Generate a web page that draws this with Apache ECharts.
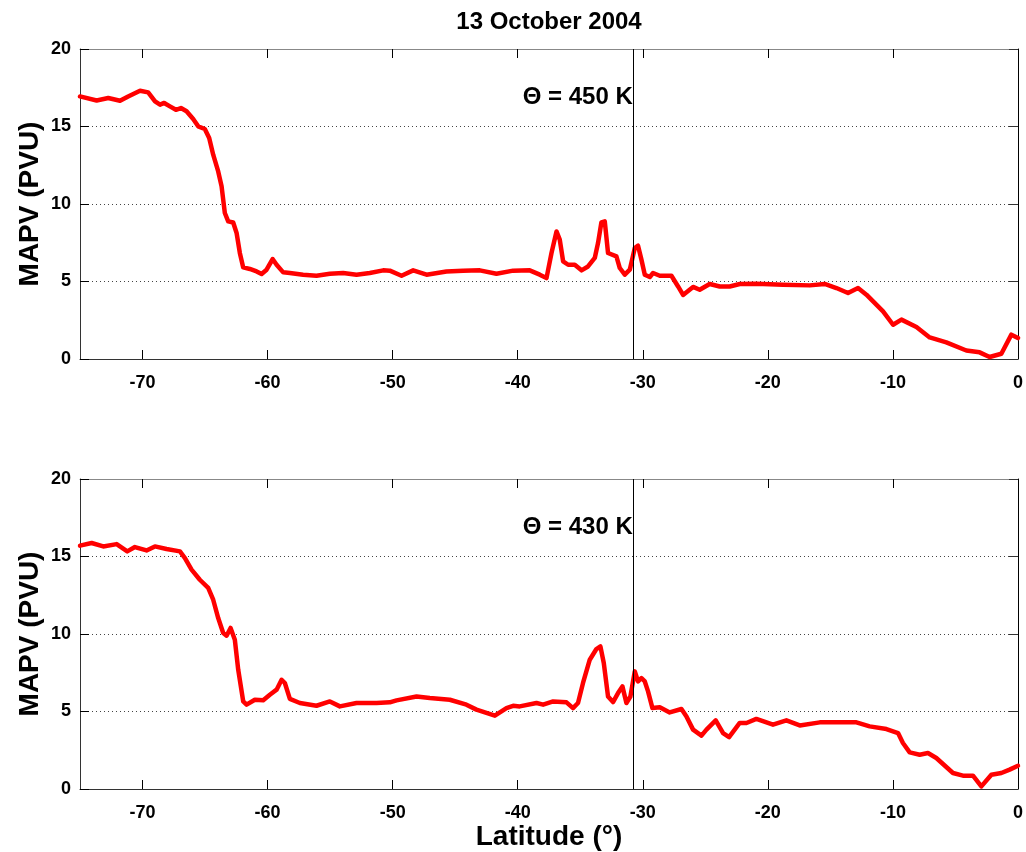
<!DOCTYPE html>
<html>
<head>
<meta charset="utf-8">
<script src="https://cdn.jsdelivr.net/npm/echarts@6/dist/echarts.min.js"></script>
<style>
  html, body { margin: 0; padding: 0; background: #fff; }
  #chart { width: 1026px; height: 852px; }
</style>
</head>
<body>
<div id="chart"></div>
<script>
// Modified area-averaged PV along the latitude transect, 13 October 2004
const titleText = '13 October 2004';
const xTickValues = [-70, -60, -50, -40, -30, -20, -10, 0];
const yTickLabels = ['0', '5', '10', '15', '20'];
const markerLatitude = -30.8;

// Θ = 450 K level
const lat450 = [-75, -73.67, -72.74, -71.8, -71.15, -70.2, -69.55, -69.0, -68.6, -68.27, -67.81, -67.33, -66.93, -66.48,
  -65.95, -65.55, -65.02, -64.67, -64.35, -63.95, -63.68, -63.42, -63.15, -62.75, -62.48, -62.22, -61.95, -61.42,
  -60.88, -60.48, -60.08, -59.6, -59.28, -58.75, -58.22, -57.16, -56.09, -55.02, -53.96, -52.89, -51.83, -50.76,
  -50.23, -49.29, -48.36, -47.29, -45.7, -44.37, -43.03, -41.7, -40.37, -39.04, -38.24, -37.7, -37.3, -36.9, -36.64,
  -36.37, -35.97, -35.44, -34.9, -34.38, -33.84, -33.58, -33.31, -33.04, -32.78, -32.11, -31.84, -31.44, -31.04,
  -30.64, -30.38, -30.11, -29.84, -29.44, -29.18, -28.64, -27.71, -27.18, -26.78, -25.98, -25.45, -24.65, -23.85,
  -23.05, -22.25, -20.92, -18.79, -16.65, -15.46, -14.52, -13.59, -12.79, -12.12, -10.79, -9.99, -9.32, -8.12,
  -7.06, -5.73, -4.13, -3.07, -2.27, -1.33, -0.53, 0];
const mapv450 = [16.94, 16.68, 16.84, 16.66, 16.94, 17.31, 17.2, 16.62, 16.41, 16.52, 16.3, 16.08, 16.19, 15.98,
  15.48, 15.01, 14.84, 14.26, 13.18, 12.1, 11.14, 9.42, 8.88, 8.81, 8.13, 6.84, 5.91, 5.81,
  5.65, 5.48, 5.76, 6.45, 6.08, 5.59, 5.55, 5.44, 5.37, 5.5, 5.55, 5.44, 5.55, 5.72,
  5.7, 5.37, 5.72, 5.44, 5.65, 5.7, 5.72, 5.5, 5.7, 5.72, 5.44, 5.22, 6.84, 8.23, 7.7,
  6.3, 6.08, 6.08, 5.72, 5.97, 6.52, 7.48, 8.81, 8.88, 6.84, 6.62, 5.87, 5.44, 5.76,
  7.16, 7.31, 6.41, 5.44, 5.29, 5.55, 5.37, 5.37, 4.68, 4.13, 4.65, 4.47, 4.84, 4.68,
  4.68, 4.84, 4.86, 4.79, 4.75, 4.84, 4.58, 4.26, 4.58, 4.15, 3.07, 2.21, 2.54, 2.06,
  1.39, 1.07, 0.55, 0.43, 0.13, 0.34, 1.57, 1.35];

// Θ = 430 K level
const lat430 = [-75, -74.07, -73.14, -72.07, -71.22, -70.61, -69.68, -69.01, -68.08, -67.01, -66.61, -66.08, -65.42,
  -64.75, -64.35, -63.95, -63.55, -63.28, -62.96, -62.62, -62.35, -61.95, -61.68, -61.02, -60.35, -59.82, -59.28,
  -58.88, -58.62, -58.22, -57.42, -56.09, -55.02, -54.22, -52.89, -51.29, -50.23, -49.69, -48.09, -47.03, -45.43,
  -44.1, -43.3, -41.83, -40.9, -40.37, -39.84, -38.5, -37.97, -37.17, -36.1, -35.58, -35.18, -34.78, -34.24, -33.71,
  -33.39, -33.12, -32.78, -32.38, -31.98, -31.63, -31.31, -30.99, -30.64, -30.38, -30.11, -29.84, -29.58, -29.23,
  -28.64, -27.85, -26.91, -26.51, -25.98, -25.31, -24.91, -24.17, -23.58, -23.1, -22.25, -21.71, -20.92, -19.59,
  -18.52, -17.45, -15.85, -14.26, -12.92, -11.86, -10.52, -9.59, -9.2, -8.66, -7.86, -7.2, -6.53, -5.2, -4.4,
  -3.6, -2.93, -2.13, -1.33, -0.67, 0];
const mapv430 = [15.7, 15.87, 15.65, 15.8, 15.33, 15.61, 15.39, 15.65, 15.48, 15.33, 14.9, 14.15, 13.5,
  12.97, 12.21, 11.03, 10.06, 9.89, 10.39, 9.63, 7.7, 5.65, 5.44, 5.76, 5.72, 6.08, 6.41,
  7.05, 6.84, 5.81, 5.55, 5.37, 5.65, 5.33, 5.55, 5.55, 5.59, 5.72, 5.97, 5.87, 5.76,
  5.44, 5.12, 4.73, 5.22, 5.37, 5.33, 5.55, 5.44, 5.65, 5.59, 5.22, 5.55, 6.84, 8.34, 9.03,
  9.2, 8.13, 5.97, 5.61, 6.19, 6.62, 5.55, 5.97, 7.59, 6.94, 7.16, 6.94, 6.3, 5.22,
  5.27, 4.94, 5.16, 4.68, 3.83, 3.44, 3.83, 4.43, 3.61, 3.35, 4.26, 4.26, 4.52, 4.15,
  4.43, 4.1, 4.3, 4.3, 4.3, 4.04, 3.87, 3.61, 2.97, 2.36, 2.21, 2.32, 2.0, 1.03, 0.86,
  0.86, 0.17, 0.92, 1.03, 1.25, 1.5];

const panelLabels = ['\u0398 = 450 K', '\u0398 = 430 K'];
const labelValue = 16.9;

const FONT = '"Liberation Sans", Arial, Helvetica, sans-serif';
const chart = echarts.init(document.getElementById('chart'), null, { renderer: 'canvas' });

const grids = [
  { left: 80, top: 49, width: 939, height: 310 },
  { left: 80, top: 479, width: 939, height: 310 }
];

function bottomX(i, withName) {
  return {
    type: 'value', gridIndex: i, min: -75, max: 0, position: 'bottom',
    name: withName ? 'Latitude (\u00b0)' : '', nameLocation: 'middle', nameGap: 32,
    nameTextStyle: { fontFamily: FONT, fontWeight: 'bold', fontSize: 28, color: '#000' },
    axisLine: { show: true, onZero: false, lineStyle: { color: '#333', width: 1 } },
    axisTick: { show: true, inside: true, length: 9, customValues: xTickValues, lineStyle: { color: '#000' } },
    axisLabel: { show: true, customValues: xTickValues, margin: 15, fontFamily: FONT, fontWeight: 'bold', fontSize: 18, color: '#000' },
    splitLine: { show: false }
  };
}
function topX(i) {
  return {
    type: 'value', gridIndex: i, min: -75, max: 0, position: 'top',
    axisLine: { show: true, onZero: false, lineStyle: { color: '#888', width: 1 } },
    axisTick: { show: true, inside: true, length: 9, customValues: xTickValues, lineStyle: { color: '#000' } },
    axisLabel: { show: false },
    splitLine: { show: false }
  };
}
function leftY(i) {
  return {
    type: 'value', gridIndex: i, min: 0, max: 20, interval: 5, position: 'left',
    name: 'MAPV (PVU)', nameLocation: 'middle', nameGap: 36, nameMoveOverlap: false,
    nameTextStyle: { fontFamily: FONT, fontWeight: 'bold', fontSize: 28, color: '#000' },
    axisLine: { show: true, onZero: false, lineStyle: { color: '#333', width: 1 } },
    axisTick: { show: true, inside: true, length: 9, lineStyle: { color: '#000' } },
    axisLabel: { margin: 9, fontFamily: FONT, fontWeight: 'bold', fontSize: 18, color: '#000',
      formatter: (v) => yTickLabels[Math.round(v / 5)] },
    splitLine: { show: true, lineStyle: { color: '#444', width: 1, type: [1, 3] } }
  };
}
function rightY(i) {
  return {
    type: 'value', gridIndex: i, min: 0, max: 20, interval: 5, position: 'right',
    axisLine: { show: true, onZero: false, lineStyle: { color: '#000', width: 1 } },
    axisTick: { show: true, inside: true, length: 9, lineStyle: { color: '#333' } },
    axisLabel: { show: false },
    splitLine: { show: false }
  };
}

function pairs(xs, ys) { return xs.map((x, k) => [x, ys[k]]); }

function profileSeries(i, data) {
  return {
    type: 'line', xAxisIndex: i * 2, yAxisIndex: i * 2, data: data,
    showSymbol: false, symbol: 'none', smooth: false, sampling: null, animation: false,
    lineStyle: { color: '#ff0000', width: 4.5, join: 'round', cap: 'round' },
    markLine: {
      silent: true, symbol: 'none', animation: false,
      label: { show: false },
      lineStyle: { color: '#000', width: 1, type: 'solid' },
      data: [{ xAxis: markerLatitude }]
    },
    z: 3
  };
}

chart.setOption({
  backgroundColor: '#fff',
  animation: false,
  grid: grids,
  xAxis: [bottomX(0, false), topX(0), bottomX(1, true), topX(1)],
  yAxis: [leftY(0), rightY(0), leftY(1), rightY(1)],
  series: [profileSeries(0, pairs(lat450, mapv450)), profileSeries(1, pairs(lat430, mapv430))]
});

// Title centred over the plotting area, level labels ending at the marker line
const cx = (chart.convertToPixel({ xAxisIndex: 0 }, -75) + chart.convertToPixel({ xAxisIndex: 0 }, 0)) / 2;
const graphics = [{
  type: 'text', x: cx, y: 22,
  style: { text: titleText, align: 'center', verticalAlign: 'middle', fontFamily: FONT, fontWeight: 'bold', fontSize: 24, fill: '#000' }
}];
panelLabels.forEach((txt, i) => {
  const p = chart.convertToPixel({ xAxisIndex: i * 2, yAxisIndex: i * 2 }, [markerLatitude, labelValue]);
  graphics.push({
    type: 'text', x: p[0], y: p[1],
    style: { text: txt, align: 'right', verticalAlign: 'middle', fontFamily: FONT, fontWeight: 'bold', fontSize: 24, fill: '#000' },
    z: 10
  });
});
chart.setOption({ graphic: graphics });
</script>
</body>
</html>
